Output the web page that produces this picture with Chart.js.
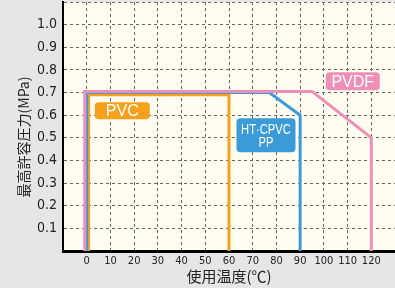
<!DOCTYPE html>
<html>
<head>
<meta charset="utf-8">
<script src="https://cdn.jsdelivr.net/npm/chart.js@4.4.1/dist/chart.umd.min.js"></script>
<style>
  body { margin: 0; background: #e6e6e6; }
  canvas { display: block; }
</style>
</head>
<body>
<canvas id="myChart" width="395" height="288"></canvas>
<script>
// values (temperature in C, pressure in MPa)
let pvcTemps = [0.8, 0.8, 60, 60];
let pvcPress = [0, 0.69, 0.69, 0];
let cpvcTemps = [0, 0, 77, 90, 90];
let cpvcPress = [0, 0.7, 0.7, 0.6, 0];
let pvdfTemps = [-0.8, -0.8, 95, 120, 120];
let pvdfPress = [0, 0.705, 0.705, 0.5, 0];

let xTicks = [0, 10, 20, 30, 40, 50, 60, 70, 80, 90, 100, 110, 120];
let yTicks = [0.1, 0.2, 0.3, 0.4, 0.5, 0.6, 0.7, 0.8, 0.9, 1.0];
let yTitle = "最高許容圧力(MPa)";
let xTitle = "使用温度(℃)";

const narrow = "'DejaVu Sans Condensed', 'Liberation Sans Narrow', sans-serif";
const jp = "'Noto Sans CJK JP', sans-serif";

function toPoints(xs, ys) {
    return xs.map((x, i) => ({ x: x, y: ys[i] }));
}

// tag boxes, placed in data units
let tags = [
    { lines: ["PVDF"], x: 112.2, y: 0.75, w: 54, h: 18, color: "#ef8fb8", font: "16px 'Liberation Sans', sans-serif", sx: 1 },
    { lines: ["HT·CPVC", "PP"], x: 75.6, y: 0.511, w: 59, h: 34, color: "#3b9bd8", font: "14px 'Liberation Sans', sans-serif", sx: 0.8 },
    { lines: ["PVC"], x: 15, y: 0.62, w: 55, h: 17, color: "#f5a11c", font: "16px 'Liberation Sans', sans-serif", sx: 1 },
];

const plotBg = {
    id: "plotBg",
    beforeDraw(chart) {
        const { ctx, chartArea: a } = chart;
        ctx.save();
        ctx.fillStyle = "#e6e6e6";
        ctx.fillRect(0, 0, chart.width, chart.height);
        ctx.fillStyle = "#fffdef";
        ctx.fillRect(a.left, a.top, a.right - a.left, a.bottom - a.top);
        ctx.restore();
    },
    afterDraw(chart) {
        // y title sits a little below the middle of the plot in the original
        const ctx = chart.ctx;
        ctx.save();
        ctx.translate(24, 137);
        ctx.rotate(-Math.PI / 2);
        ctx.font = "14px " + jp;
        ctx.fillStyle = "#222";
        ctx.textAlign = "center";
        ctx.textBaseline = "middle";
        ctx.fillText(yTitle, 0, 0);
        ctx.restore();
    }
};

const tagBoxes = {
    id: "tagBoxes",
    afterDatasetsDraw(chart) {
        const ctx = chart.ctx;
        const xs = chart.scales.x, ys = chart.scales.y;
        ctx.save();
        tags.forEach((t) => {
            const cx = xs.getPixelForValue(t.x);
            const cy = ys.getPixelForValue(t.y);
            ctx.fillStyle = t.color;
            ctx.beginPath();
            ctx.roundRect(cx - t.w / 2, cy - t.h / 2, t.w, t.h, 4);
            ctx.fill();
            ctx.save();
            ctx.translate(cx, cy);
            ctx.scale(t.sx, 1);
            ctx.fillStyle = "#ffffff";
            ctx.font = t.font;
            ctx.textAlign = "center";
            ctx.textBaseline = "middle";
            const lh = 13;
            t.lines.forEach((line, i) => {
                ctx.fillText(line, 0, (i - (t.lines.length - 1) / 2) * lh + 1);
            });
            ctx.restore();
        });
        ctx.restore();
    }
};

const ctx = document.getElementById("myChart");
let chart = new Chart(ctx, {
    type: "scatter",
    data: {
        datasets: [
            { label: "PVDF", data: toPoints(pvdfTemps, pvdfPress), borderColor: "#ef8fb8" },
            { label: "HT-CPVC PP", data: toPoints(cpvcTemps, cpvcPress), borderColor: "#3b9bd8" },
            { label: "PVC", data: toPoints(pvcTemps, pvcPress), borderColor: "#f5a11c" },
        ].map((d) => Object.assign(d, { showLine: true, borderWidth: 3, pointRadius: 0, fill: false, tension: 0 })),
    },
    options: {
        responsive: false,
        animation: false,
        devicePixelRatio: 1,
        layout: { padding: { top: 2, right: 0, left: 0, bottom: 0 } },
        plugins: {
            legend: { display: false },
            tooltip: { enabled: false },
        },
        scales: {
            x: {
                type: "linear",
                min: -10,
                max: 130,
                afterBuildTicks: (scale) => {
                    let t = [];
                    for (let v = -10; v <= 130; v += 10) t.push({ value: v });
                    scale.ticks = t;
                },
                afterFit: (scale) => {
                    scale.height = 37;
                    scale.paddingLeft = 0;
                    scale.paddingRight = 0;
                },
                ticks: {
                    color: "#222",
                    font: { family: narrow, size: 11 },
                    padding: 4,
                    maxRotation: 0,
                    autoSkip: false,
                    callback: (v) => xTicks.includes(v) ? String(v) : "",
                },
                grid: { color: "#666", drawTicks: false, lineWidth: 1 },
                border: { color: "#000", width: 3, dash: [3, 3] },
                title: {
                    display: true,
                    text: xTitle,
                    color: "#222",
                    font: { family: jp, size: 15 },
                    padding: { top: 0, bottom: 3 },
                },
            },
            y: {
                type: "linear",
                min: 0,
                max: 1.1,
                afterBuildTicks: (scale) => {
                    let t = [];
                    for (let i = 0; i <= 11; i++) t.push({ value: i / 10 });
                    scale.ticks = t;
                },
                afterFit: (scale) => {
                    scale.width = 63;
                    scale.paddingTop = 0;
                    scale.paddingBottom = 0;
                },
                ticks: {
                    color: "#222",
                    font: { family: narrow, size: 14 },
                    padding: 6,
                    callback: (v) => {
                        let hit = yTicks.find((t) => Math.abs(t - v) < 1e-6);
                        return hit !== undefined ? hit.toFixed(1) : "";
                    },
                },
                grid: { color: "#666", drawTicks: false, lineWidth: 1 },
                border: { color: "#000", width: 2, dash: [3, 3] },
                title: { display: false },
            },
        },
    },
    plugins: [plotBg, tagBoxes],
});
</script>
</body>
</html>
